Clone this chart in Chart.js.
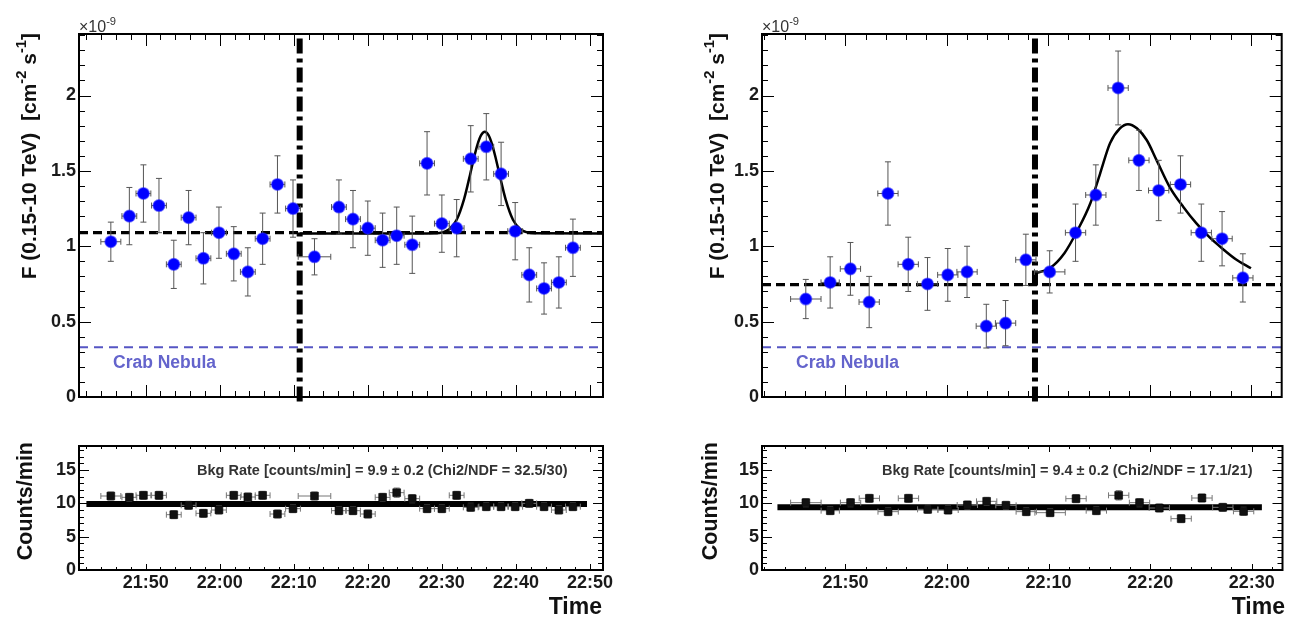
<!DOCTYPE html>
<html>
<head>
<meta charset="utf-8">
<title>Flux light curves</title>
<script src="https://cdn.jsdelivr.net/npm/chart.js@4.4.1/dist/chart.umd.min.js"></script>
<style>
  body { margin: 0; background: #fff; }
  #wrap { position: relative; width: 1289px; height: 619px; overflow: hidden; background: #fff; }
  canvas { position: absolute; }
</style>
</head>
<body>
<div id="wrap">
  <canvas id="flux-a" width="640" height="420" style="left:0;top:0"></canvas>
  <canvas id="flux-b" width="609" height="420" style="left:680px;top:0"></canvas>
  <canvas id="bkg-a" width="640" height="199" style="left:0;top:420px"></canvas>
  <canvas id="bkg-b" width="609" height="199" style="left:680px;top:420px"></canvas>
</div>
<script>
"use strict";

// Time axis is in minutes after 21:00
const timeTicksA = [50, 60, 70, 80, 90, 100, 110];
const timeLabelsA = ["21:50", "22:00", "22:10", "22:20", "22:30", "22:40", "22:50"];
const timeTicksB = [50, 60, 70, 80, 90];
const timeLabelsB = ["21:50", "22:00", "22:10", "22:20", "22:30"];
const fluxTicks = [0, 0.5, 1, 1.5, 2];
const fluxLabels = ["0", "0.5", "1", "1.5", "2"];
const rateTicks = [0, 5, 10, 15];
const rateLabels = ["0", "5", "10", "15"];

// Left night
const timeA = [45.3, 47.8, 49.7, 51.8, 53.8, 55.8, 57.8, 59.9, 61.9, 63.8, 65.8, 67.8, 69.9,
               72.8, 76.1, 78.0, 80.0, 82.0, 83.9, 86.0, 88.0, 90.0, 92.0, 93.9, 96.0, 98.0,
               99.9, 101.8, 103.8, 105.8, 107.7];
const timeErrA = [1.35, 1, 1, 1, 1, 1, 1, 1, 1, 1, 1, 1, 1,
                  2.2, 1, 1, 1, 1, 1, 1, 1, 1, 1, 1, 1, 1,
                  1, 1, 1, 1, 1];
const fluxA = [1.03, 1.20, 1.35, 1.27, 0.88, 1.19, 0.92, 1.09, 0.95, 0.83, 1.05, 1.41, 1.25,
               0.93, 1.26, 1.18, 1.12, 1.04, 1.07, 1.01, 1.55, 1.15, 1.12, 1.58, 1.66, 1.48,
               1.10, 0.81, 0.72, 0.76, 0.99];
const fluxErrA = [0.13, 0.19, 0.19, 0.18, 0.16, 0.18, 0.17, 0.17, 0.18, 0.16, 0.17, 0.19, 0.19,
                  0.12, 0.18, 0.19, 0.18, 0.18, 0.19, 0.19, 0.21, 0.19, 0.19, 0.22, 0.22, 0.21,
                  0.19, 0.18, 0.17, 0.17, 0.19];
const bkgA = [11.1, 10.9, 11.2, 11.2, 8.3, 9.7, 8.5, 9.0, 11.2, 10.95, 11.2, 8.4, 9.2,
              11.1, 8.9, 8.9, 8.4, 10.9, 11.6, 10.7, 9.2, 9.2, 11.2, 9.4, 9.5, 9.5,
              9.5, 10.0, 9.5, 9.0, 9.5];
const bkgErrA = [0.6, 0.6, 0.6, 0.6, 0.6, 0.6, 0.6, 0.6, 0.6, 0.6, 0.6, 0.6, 0.6,
                 0.6, 0.6, 0.6, 0.6, 0.6, 0.7, 0.6, 0.6, 0.6, 0.6, 0.6, 0.6, 0.6,
                 0.6, 0.6, 0.6, 0.6, 0.6];
const fitTimeA = [70.8, 86, 88, 89, 90, 91, 92, 93, 93.8, 94.3, 94.8, 95.3, 95.8, 96.3, 96.8,
                  97.3, 97.8, 98.6, 99.6, 100.6, 101.6, 102.6, 111.76];
const fitFluxA = [1.085, 1.085, 1.085, 1.086, 1.091, 1.113, 1.176, 1.313, 1.473, 1.579, 1.673,
                  1.737, 1.76, 1.737, 1.673, 1.579, 1.473, 1.313, 1.176, 1.113, 1.091, 1.086, 1.085];

// Right night
const timeB = [46.1, 48.5, 50.5, 52.35, 54.2, 56.2, 58.1, 60.1, 62.0, 63.9, 65.8, 67.8,
               70.15, 72.7, 74.7, 76.9, 78.95, 80.9, 83.05, 85.1, 87.15, 89.2];
const timeErrB = [1.5, 0.9, 1, 1, 1, 1, 1, 1, 1, 1, 1, 1,
                  1.5, 1, 1, 1, 1, 1, 1, 1, 1, 1];
const fluxB = [0.65, 0.76, 0.85, 0.63, 1.35, 0.88, 0.75, 0.81, 0.83, 0.47, 0.49, 0.91,
               0.83, 1.09, 1.34, 2.05, 1.57, 1.37, 1.41, 1.09, 1.05, 0.79];
const fluxErrB = [0.13, 0.17, 0.175, 0.17, 0.21, 0.18, 0.175, 0.175, 0.17, 0.145, 0.15, 0.17,
                  0.14, 0.19, 0.2, 0.245, 0.2, 0.2, 0.19, 0.19, 0.18, 0.16];
const bkgB = [10.1, 8.9, 10.1, 10.75, 8.75, 10.75, 9.1, 9.0, 9.75, 10.3, 9.7, 8.75,
              8.6, 10.7, 8.9, 11.2, 10.1, 9.3, 7.7, 10.8, 9.4, 8.8];
const bkgErrB = [0.6, 0.6, 0.6, 0.6, 0.6, 0.6, 0.6, 0.6, 0.6, 0.6, 0.6, 0.6,
                 0.6, 0.6, 0.6, 0.7, 0.6, 0.6, 0.6, 0.6, 0.6, 0.6];
const fitTimeB = [68.7, 70.15, 71.6, 72.9, 74.16, 75.13, 76.1, 77.1, 77.87, 78.75, 79.73, 80.7,
                  82.0, 83.35, 84.6, 85.9, 87.26, 88.5, 90.0];
const fitFluxB = [0.82, 0.854, 0.954, 1.106, 1.285, 1.484, 1.683, 1.783, 1.81, 1.783, 1.703, 1.57,
                  1.391, 1.259, 1.153, 1.06, 0.98, 0.914, 0.854];

// Reference levels
const baselineA = 1.09, baselineB = 0.745;
const crabFlux = 0.33;
const flareStartA = 70.8, flareStartB = 68.7;
const bkgFitA = 9.9, bkgFitB = 9.4;
const bkgFitRangeA = [42.0, 109.6], bkgFitRangeB = [43.3, 91.0];

const FONT = "'Liberation Sans', Arial, Helvetica, sans-serif";

function pts(xs, ys) {
    return xs.map(function (x, i) { return { x: x, y: ys[i] }; });
}

function eachTick(min, max, minor, major, fn) {
    var k0 = Math.ceil(min / minor - 1e-6), k1 = Math.floor(max / minor + 1e-6);
    for (var k = k0; k <= k1; k++) {
        var v = k * minor, r = v / major;
        fn(v, Math.abs(r - Math.round(r)) < 1e-6);
    }
}

function setFont(ctx, size, weight) {
    ctx.font = (weight || "bold") + " " + size + "px " + FONT;
}

// parts: [text, isSuperscript]
function richWidth(ctx, parts, size, weight) {
    var w = 0;
    parts.forEach(function (p) {
        setFont(ctx, p[1] ? size * 0.7 : size, weight);
        w += ctx.measureText(p[0]).width;
    });
    return w;
}

function drawRich(ctx, parts, size, x, y, weight) {
    parts.forEach(function (p) {
        setFont(ctx, p[1] ? size * 0.7 : size, weight);
        ctx.fillText(p[0], x, p[1] ? y - size * 0.45 : y);
        x += ctx.measureText(p[0]).width;
    });
}

// ROOT-like frame: inward ticks on all sides, error bars, titles
const rootFrame = {
    id: "rootFrame",
    beforeDatasetDraw: function (chart, args) {
        var ds = chart.data.datasets[args.index];
        if (!ds.yErr) return;
        var ctx = chart.ctx, xs = chart.scales.x, ys = chart.scales.y, a = chart.chartArea;
        var c = 3;
        ctx.save();
        ctx.beginPath();
        ctx.rect(a.left, a.top, a.right - a.left, a.bottom - a.top);
        ctx.clip();
        ctx.strokeStyle = ds.errorColor;
        ctx.lineWidth = 1;
        ctx.beginPath();
        ds.data.forEach(function (p, i) {
            var x = xs.getPixelForValue(p.x), y = ys.getPixelForValue(p.y);
            var x0 = xs.getPixelForValue(p.x - ds.xErr[i]), x1 = xs.getPixelForValue(p.x + ds.xErr[i]);
            var y0 = ys.getPixelForValue(p.y - ds.yErr[i]), y1 = ys.getPixelForValue(p.y + ds.yErr[i]);
            ctx.moveTo(x0, y); ctx.lineTo(x1, y);
            ctx.moveTo(x, y0); ctx.lineTo(x, y1);
            ctx.moveTo(x - c, y0); ctx.lineTo(x + c, y0);
            ctx.moveTo(x - c, y1); ctx.lineTo(x + c, y1);
            ctx.moveTo(x0, y - c); ctx.lineTo(x0, y + c);
            ctx.moveTo(x1, y - c); ctx.lineTo(x1, y + c);
        });
        ctx.stroke();
        ctx.restore();
    },
    afterDraw: function (chart, args, o) {
        var ctx = chart.ctx, xs = chart.scales.x, ys = chart.scales.y, a = chart.chartArea;
        ctx.save();
        ctx.strokeStyle = "#000";
        ctx.lineWidth = 1;
        ctx.beginPath();
        eachTick(xs.min, xs.max, o.xMinor, o.xMajor, function (v, major) {
            var x = Math.round(xs.getPixelForValue(v)) + 0.5;
            var len = major ? o.xLen[0] : o.xLen[1];
            ctx.moveTo(x, a.bottom); ctx.lineTo(x, a.bottom - len);
            ctx.moveTo(x, a.top); ctx.lineTo(x, a.top + len);
        });
        eachTick(ys.min, ys.max, o.yMinor, o.yMajor, function (v, major) {
            var y = Math.round(ys.getPixelForValue(v)) + 0.5;
            var len = major ? o.yLen[0] : o.yLen[1];
            ctx.moveTo(a.left, y); ctx.lineTo(a.left + len, y);
            ctx.moveTo(a.right, y); ctx.lineTo(a.right - len, y);
        });
        ctx.stroke();
        ctx.lineWidth = 2;
        ctx.strokeRect(a.left, a.top, a.right - a.left, a.bottom - a.top);

        // rotated y title, ending near the top of the frame
        var t = o.yTitle;
        ctx.fillStyle = "#111";
        ctx.textBaseline = "alphabetic";
        var w = richWidth(ctx, t.parts, t.size);
        ctx.save();
        ctx.translate(t.x, t.top + w);
        ctx.rotate(-Math.PI / 2);
        drawRich(ctx, t.parts, t.size, 0, t.size * 0.36);
        ctx.restore();

        (o.texts || []).forEach(function (s) {
            ctx.fillStyle = s.color || "#111";
            var tw = richWidth(ctx, s.parts, s.size, s.weight);
            var x = s.align === "right" ? s.x - tw : s.x;
            drawRich(ctx, s.parts, s.size, x, s.y, s.weight);
        });
        ctx.restore();
    }
};

function scales(o) {
    return {
        x: {
            type: "linear", min: o.xMin, max: o.xMax,
            grid: { display: false, drawTicks: false },
            border: { display: false },
            afterBuildTicks: function (s) { s.ticks = o.xTicks.map(function (v) { return { value: v }; }); },
            afterFit: function (s) { s.height = o.xHeight; },
            ticks: {
                display: !!o.xLabels, autoSkip: false, maxRotation: 0, padding: 2, color: "#1a1a1a",
                font: { family: FONT, size: 18, weight: "bold" },
                callback: function (v, i) { return o.xLabels ? o.xLabels[i] : ""; }
            }
        },
        y: {
            type: "linear", min: o.yMin, max: o.yMax,
            grid: { display: false, drawTicks: false },
            border: { display: false },
            afterBuildTicks: function (s) { s.ticks = o.yTicks.map(function (v) { return { value: v }; }); },
            afterFit: function (s) { s.width = o.yWidth; },
            ticks: {
                autoSkip: false, padding: 3, color: "#1a1a1a",
                font: { family: FONT, size: 18, weight: "bold" },
                callback: function (v, i) { return o.yLabels[i]; }
            }
        }
    };
}

function hline(y, x0, x1, color, width, dash, order) {
    return {
        data: [{ x: x0, y: y }, { x: x1, y: y }], showLine: true, pointRadius: 0,
        borderColor: color, borderWidth: width, borderDash: dash, order: order
    };
}

function fluxChart(id, c) {
    var yTitle = {
        x: c.titleX, top: 33, size: 21,
        parts: [["F (0.15-10 TeV)  [cm", false], ["-2", true], [" s", false], ["-1", true], ["]", false]]
    };
    return new Chart(document.getElementById(id), {
        type: "scatter",
        data: {
            datasets: [
                {
                    data: pts(c.time, c.flux), xErr: c.timeErr, yErr: c.fluxErr, errorColor: "#555",
                    pointRadius: 5.8, pointBackgroundColor: "#0000ff",
                    pointBorderColor: "rgba(30,30,255,0.55)", pointBorderWidth: 1.5, order: 0
                },
                {
                    data: pts(c.fitTime, c.fitFlux), showLine: true, pointRadius: 0,
                    borderColor: "#000", borderWidth: 2.5, tension: 0.4,
                    cubicInterpolationMode: "monotone", order: 1
                },
                {
                    data: [{ x: c.flareStart, y: -0.03 }, { x: c.flareStart, y: 2.41 }],
                    showLine: true, pointRadius: 0, borderColor: "#000", borderWidth: 6,
                    borderDash: [15, 5, 4, 5], clip: false, order: 2
                },
                hline(c.baseline, c.xMin, c.xMax, "#000", 3.2, [9, 5], 3),
                hline(crabFlux, c.xMin, c.xMax, "#5656c4", 2, [9, 6], 4)
            ]
        },
        options: {
            responsive: false, animation: false, devicePixelRatio: 1, events: [],
            layout: { padding: { top: 34, right: c.padRight, left: 0, bottom: 0 } },
            scales: scales({
                xMin: c.xMin, xMax: c.xMax, xTicks: c.xTicks, xLabels: null, xHeight: 23,
                yMin: 0, yMax: 2.408, yTicks: fluxTicks, yLabels: fluxLabels, yWidth: c.yWidth
            }),
            plugins: {
                legend: { display: false }, tooltip: { enabled: false },
                rootFrame: {
                    xMinor: 2, xMajor: 10, yMinor: 0.1, yMajor: 0.5, xLen: [12, 6], yLen: [12, 6],
                    yTitle: yTitle,
                    texts: [
                        { parts: [["\u00d710", false], ["-9", true]], size: 16, weight: "normal",
                          x: c.yWidth, y: 32, color: "#333" },
                        { parts: [["Crab Nebula", false]], size: 17.5, x: c.yWidth + 34, y: 368, color: "#6464cc" }
                    ]
                }
            }
        },
        plugins: [rootFrame]
    });
}

function bkgChart(id, c) {
    return new Chart(document.getElementById(id), {
        type: "scatter",
        data: {
            datasets: [
                {
                    data: pts(c.time, c.rate), xErr: c.timeErr, yErr: c.rateErr, errorColor: "#777",
                    pointStyle: "rect", pointRadius: 5.5, pointBackgroundColor: "#111",
                    pointBorderColor: "rgba(0,0,0,0.6)", pointBorderWidth: 1, order: 0
                },
                hline(c.fit, c.fitRange[0], c.fitRange[1], "#000", 6, [], 1)
            ]
        },
        options: {
            responsive: false, animation: false, devicePixelRatio: 1, events: [],
            layout: { padding: { top: 26, right: c.padRight, left: 0, bottom: 0 } },
            scales: scales({
                xMin: c.xMin, xMax: c.xMax, xTicks: c.xTicks, xLabels: c.xLabels, xHeight: 49,
                yMin: 0, yMax: 18.6, yTicks: rateTicks, yLabels: rateLabels, yWidth: c.yWidth
            }),
            plugins: {
                legend: { display: false }, tooltip: { enabled: false },
                rootFrame: {
                    xMinor: 2, xMajor: 10, yMinor: 1, yMajor: 5, xLen: [6, 3], yLen: [10, 5],
                    yTitle: { x: c.titleX, top: 22, size: 21.5, parts: [["Counts/min", false]] },
                    texts: [
                        { parts: [[c.label, false]], size: 14.5, x: c.yWidth + c.labelDx, y: 55, color: "#333" },
                        { parts: [["Time", false]], size: 23, x: c.yWidth + 523, y: 194, align: "right", color: "#111" }
                    ]
                }
            }
        },
        plugins: [rootFrame]
    });
}

fluxChart("flux-a", {
    time: timeA, timeErr: timeErrA, flux: fluxA, fluxErr: fluxErrA,
    fitTime: fitTimeA, fitFlux: fitFluxA, baseline: baselineA, flareStart: flareStartA,
    xMin: 41.0, xMax: 111.76, xTicks: timeTicksA, yWidth: 79, padRight: 37, titleX: 28
});
fluxChart("flux-b", {
    time: timeB, timeErr: timeErrB, flux: fluxB, fluxErr: fluxErrB,
    fitTime: fitTimeB, fitFlux: fitFluxB, baseline: baselineB, flareStart: flareStartB,
    xMin: 41.78, xMax: 93.03, xTicks: timeTicksB, yWidth: 82, padRight: 3, titleX: 36
});
bkgChart("bkg-a", {
    time: timeA, timeErr: timeErrA, rate: bkgA, rateErr: bkgErrA, fit: bkgFitA, fitRange: bkgFitRangeA,
    xMin: 41.0, xMax: 111.76, xTicks: timeTicksA, xLabels: timeLabelsA, yWidth: 79, padRight: 37,
    titleX: 24, labelDx: 118,
    label: "Bkg Rate [counts/min] = 9.9 \u00b1 0.2 (Chi2/NDF = 32.5/30)"
});
bkgChart("bkg-b", {
    time: timeB, timeErr: timeErrB, rate: bkgB, rateErr: bkgErrB, fit: bkgFitB, fitRange: bkgFitRangeB,
    xMin: 41.78, xMax: 93.03, xTicks: timeTicksB, xLabels: timeLabelsB, yWidth: 82, padRight: 3,
    titleX: 29, labelDx: 120,
    label: "Bkg Rate [counts/min] = 9.4 \u00b1 0.2 (Chi2/NDF = 17.1/21)"
});
</script>
</body>
</html>
